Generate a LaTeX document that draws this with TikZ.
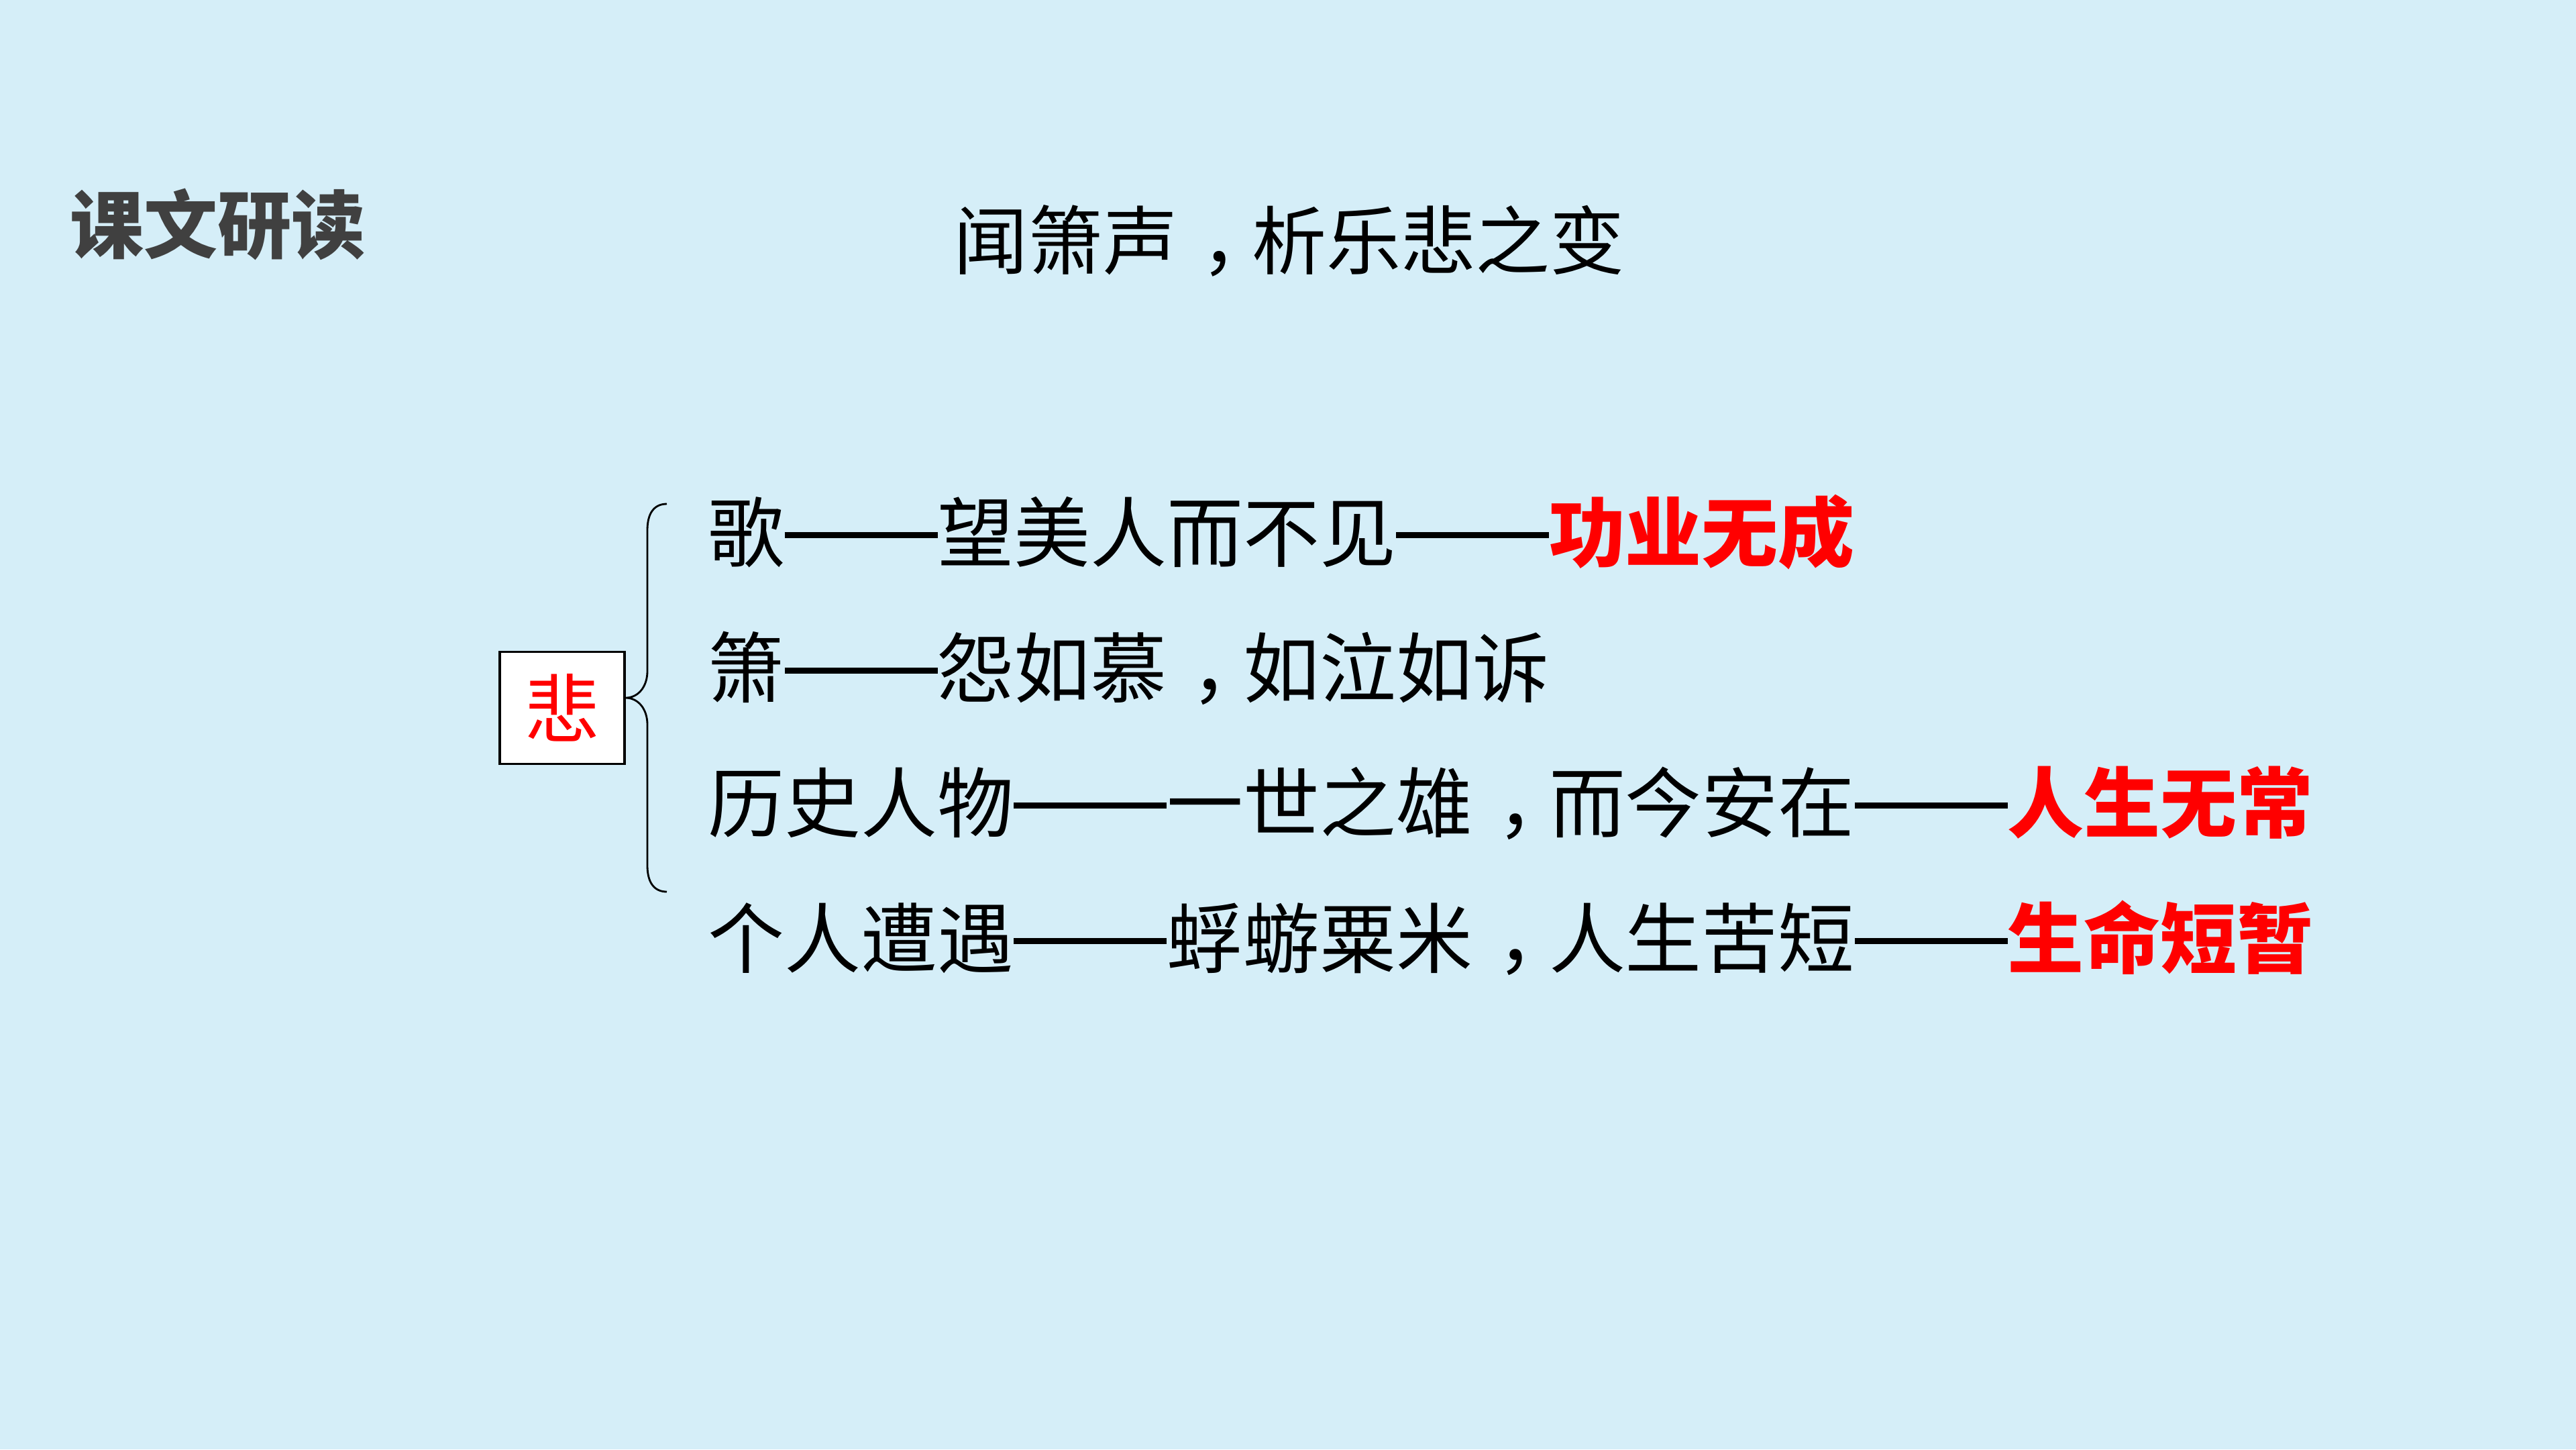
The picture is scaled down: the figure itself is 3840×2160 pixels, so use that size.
\documentclass[tikz,border=0pt]{standalone}
\usepackage{fontspec}
\setmainfont{Noto Sans CJK SC}
\definecolor{bgblue}{RGB}{213,238,248}
\definecolor{headgray}{RGB}{64,64,64}
\definecolor{keyred}{RGB}{255,0,0}
\tikzset{
  px/.style={x=0.01cm,y=-0.01cm},
  header/.style={anchor=base west,inner sep=0pt,text=headgray,font=\fontsize{31.3pt}{31.3pt}\selectfont\bfseries},
  titletext/.style={anchor=base,inner sep=0pt,text=black,font=\fontsize{31.6pt}{31.6pt}\selectfont},
  linetext/.style={anchor=base west,inner sep=0pt,text=black,font=\fontsize{32.4pt}{32.4pt}\selectfont},
  keybox/.style={draw=black,line width=0.9pt,fill=white,minimum width=1.86cm,minimum height=1.67cm,inner sep=0pt,text=keyred,font=\fontsize{31.6pt}{31.6pt}\selectfont},
  bracestyle/.style={draw=black,line width=0.8pt}
}
\newcommand{\key}[1]{{\bfseries\color{keyred}#1}}
\newcommand{\dd}{\rule[0.30em]{2em}{0.08em}}
\newcommand{\cma}{\makebox[1em][l]{\hspace{0.32em}，}}
\begin{document}
\begin{tikzpicture}[px]
  \fill[bgblue] (0,0) rectangle (3840,2160);
  \useasboundingbox (0,0) rectangle (3840,2160);

  \node[header] (hd) at (104,376) {课文研读};
  \node[titletext] (tt) at (1922,400) {闻箫声\cma 析乐悲之变};

  \node[keybox] (bei) at (838,1055) {悲};

  \node[linetext] (l1) at (1055,836) {歌\dd 望美人而不见\dd\key{功业无成}};
  \node[linetext] (l2) at (1055,1038) {箫\dd 怨如慕\cma 如泣如诉};
  \node[linetext] (l3) at (1055,1239) {历史人物\dd 一世之雄\cma 而今安在\dd\key{人生无常}};
  \node[linetext] (l4) at (1055,1441) {个人遭遇\dd 蜉蝣粟米\cma 人生苦短\dd\key{生命短暂}};

  \coordinate (btop) at (994,751);
  \coordinate (bbot) at (994,1329);
  \coordinate (btip) at (bei.east |- 0,1040);
  \draw[bracestyle] (btop) .. controls (975,751) and (965,765) .. (965,790)
     -- (965,1000) .. controls (965,1025) and (950,1040) .. (btip)
     .. controls (950,1040) and (965,1055) .. (965,1080)
     -- (965,1290) .. controls (965,1315) and (975,1329) .. (bbot);
\end{tikzpicture}
\end{document}
